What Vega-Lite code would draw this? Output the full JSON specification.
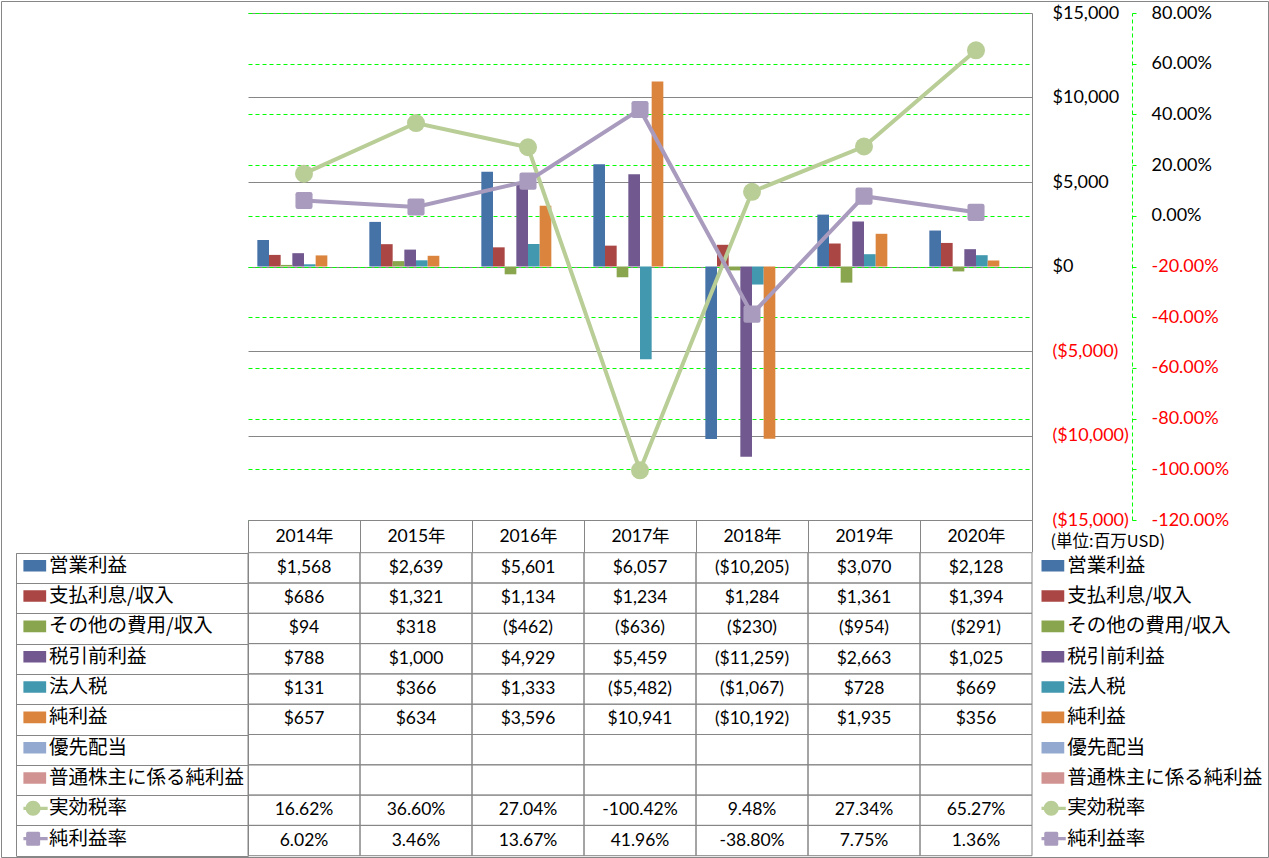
{
  "$schema": "https://vega.github.io/schema/vega-lite/v6.json",
  "width": 1267,
  "height": 856,
  "padding": 1,
  "autosize": {"type": "none"},
  "background": "#ffffff",
  "config": {
    "view": {"stroke": "#868686", "strokeWidth": 1},
    "locale": {"number": {"decimal": ".", "thousands": ",", "grouping": [3], "currency": ["$", ""], "minus": "-"}},
    "font": "Lato"
  },
  "data": {"values": [
    {"year": "2014年", "series": "営業利益", "value": 1568},
    {"year": "2015年", "series": "営業利益", "value": 2639},
    {"year": "2016年", "series": "営業利益", "value": 5601},
    {"year": "2017年", "series": "営業利益", "value": 6057},
    {"year": "2018年", "series": "営業利益", "value": -10205},
    {"year": "2019年", "series": "営業利益", "value": 3070},
    {"year": "2020年", "series": "営業利益", "value": 2128},
    {"year": "2014年", "series": "支払利息/収入", "value": 686},
    {"year": "2015年", "series": "支払利息/収入", "value": 1321},
    {"year": "2016年", "series": "支払利息/収入", "value": 1134},
    {"year": "2017年", "series": "支払利息/収入", "value": 1234},
    {"year": "2018年", "series": "支払利息/収入", "value": 1284},
    {"year": "2019年", "series": "支払利息/収入", "value": 1361},
    {"year": "2020年", "series": "支払利息/収入", "value": 1394},
    {"year": "2014年", "series": "その他の費用/収入", "value": 94},
    {"year": "2015年", "series": "その他の費用/収入", "value": 318},
    {"year": "2016年", "series": "その他の費用/収入", "value": -462},
    {"year": "2017年", "series": "その他の費用/収入", "value": -636},
    {"year": "2018年", "series": "その他の費用/収入", "value": -230},
    {"year": "2019年", "series": "その他の費用/収入", "value": -954},
    {"year": "2020年", "series": "その他の費用/収入", "value": -291},
    {"year": "2014年", "series": "税引前利益", "value": 788},
    {"year": "2015年", "series": "税引前利益", "value": 1000},
    {"year": "2016年", "series": "税引前利益", "value": 4929},
    {"year": "2017年", "series": "税引前利益", "value": 5459},
    {"year": "2018年", "series": "税引前利益", "value": -11259},
    {"year": "2019年", "series": "税引前利益", "value": 2663},
    {"year": "2020年", "series": "税引前利益", "value": 1025},
    {"year": "2014年", "series": "法人税", "value": 131},
    {"year": "2015年", "series": "法人税", "value": 366},
    {"year": "2016年", "series": "法人税", "value": 1333},
    {"year": "2017年", "series": "法人税", "value": -5482},
    {"year": "2018年", "series": "法人税", "value": -1067},
    {"year": "2019年", "series": "法人税", "value": 728},
    {"year": "2020年", "series": "法人税", "value": 669},
    {"year": "2014年", "series": "純利益", "value": 657},
    {"year": "2015年", "series": "純利益", "value": 634},
    {"year": "2016年", "series": "純利益", "value": 3596},
    {"year": "2017年", "series": "純利益", "value": 10941},
    {"year": "2018年", "series": "純利益", "value": -10192},
    {"year": "2019年", "series": "純利益", "value": 1935},
    {"year": "2020年", "series": "純利益", "value": 356},
    {"year": "2014年", "series": "優先配当", "value": null},
    {"year": "2015年", "series": "優先配当", "value": null},
    {"year": "2016年", "series": "優先配当", "value": null},
    {"year": "2017年", "series": "優先配当", "value": null},
    {"year": "2018年", "series": "優先配当", "value": null},
    {"year": "2019年", "series": "優先配当", "value": null},
    {"year": "2020年", "series": "優先配当", "value": null},
    {"year": "2014年", "series": "普通株主に係る純利益", "value": null},
    {"year": "2015年", "series": "普通株主に係る純利益", "value": null},
    {"year": "2016年", "series": "普通株主に係る純利益", "value": null},
    {"year": "2017年", "series": "普通株主に係る純利益", "value": null},
    {"year": "2018年", "series": "普通株主に係る純利益", "value": null},
    {"year": "2019年", "series": "普通株主に係る純利益", "value": null},
    {"year": "2020年", "series": "普通株主に係る純利益", "value": null},
    {"year": "2014年", "series": "実効税率", "value": 0.1662},
    {"year": "2015年", "series": "実効税率", "value": 0.3660},
    {"year": "2016年", "series": "実効税率", "value": 0.2704},
    {"year": "2017年", "series": "実効税率", "value": -1.0042},
    {"year": "2018年", "series": "実効税率", "value": 0.0948},
    {"year": "2019年", "series": "実効税率", "value": 0.2734},
    {"year": "2020年", "series": "実効税率", "value": 0.6527},
    {"year": "2014年", "series": "純利益率", "value": 0.0602},
    {"year": "2015年", "series": "純利益率", "value": 0.0346},
    {"year": "2016年", "series": "純利益率", "value": 0.1367},
    {"year": "2017年", "series": "純利益率", "value": 0.4196},
    {"year": "2018年", "series": "純利益率", "value": -0.3880},
    {"year": "2019年", "series": "純利益率", "value": 0.0775},
    {"year": "2020年", "series": "純利益率", "value": 0.0136}
  ]},
  "resolve": {"scale": {"y": "independent"}},
  "layer": [
    {
      "transform": [{"filter": {"field": "series", "oneOf": ["営業利益", "支払利息/収入", "その他の費用/収入", "税引前利益", "法人税", "純利益", "優先配当", "普通株主に係る純利益"]}}],
      "mark": {"type": "bar"},
      "encoding": {
        "x": {
          "field": "year", "type": "nominal", "sort": null,
          "scale": {"range": [247, 1031], "paddingInner": 0, "paddingOuter": 0},
          "axis": {
            "orient": "bottom", "offset": -337, "title": null, "grid": false,
            "domain": true, "domainColor": "#868686", "domainWidth": 1,
            "ticks": true, "tickBand": "extent", "tickSize": 32, "tickColor": "#868686", "tickWidth": 1,
            "labelAngle": 0, "labelPadding": -16, "labelBaseline": "middle",
            "labelFont": "Lato, Noto Sans CJK JP", "labelFontSize": 17.5, "labelColor": "#000000"
          }
        },
        "xOffset": {
          "field": "series", "type": "nominal", "sort": null,
          "scale": {"domain": ["営業利益", "支払利息/収入", "その他の費用/収入", "税引前利益", "法人税", "純利益", "優先配当", "普通株主に係る純利益"], "paddingInner": 0, "paddingOuter": 0.8}
        },
        "y": {
          "field": "value", "type": "quantitative",
          "scale": {"domain": [-15000, 15000], "range": [519, 12], "nice": false},
          "axis": {
            "orient": "left", "offset": -1031,
            "values": [-15000, -10000, -5000, 0, 5000, 10000, 15000],
            "format": "($,.0f",
            "labelColor": {"condition": {"test": "datum.value < 0", "value": "#ff0000"}, "value": "#000000"},
            "labelAlign": "left", "labelPadding": -20, "labelFont": "Lato", "labelFontSize": 18,
            "ticks": false,
            "domain": true, "domainColor": "#868686", "domainWidth": 1,
            "grid": true, "gridColor": "#868686", "gridWidth": 1,
            "title": "(単位:百万USD)", "titleAngle": 0, "titleX": 18, "titleY": 540.7,
            "titleAlign": "left", "titleBaseline": "middle",
            "titleFont": "Noto Sans CJK JP", "titleFontSize": 16.5, "titleFontWeight": "normal", "titleColor": "#000000"
          }
        },
        "fill": {
          "field": "series", "type": "nominal",
          "scale": {
            "domain": ["営業利益", "支払利息/収入", "その他の費用/収入", "税引前利益", "法人税", "純利益", "優先配当", "普通株主に係る純利益", "実効税率", "純利益率"],
            "range": ["#4572A7", "#AA4643", "#89A54E", "#71588F", "#4198AF", "#DB843D", "#93A9CF", "#D19392", "#B9CD96", "#A99BBD"]
          },
          "legend": {
            "orient": "none", "legendX": 1040.5, "legendY": 549.7, "direction": "vertical", "title": null, "padding": 0,
            "symbolSize": 100, "symbolStrokeWidth": 0, "symbolOpacity": 1, "rowPadding": 0.33, "clipHeight": 30,
            "labelFont": "Noto Sans CJK JP", "labelFontSize": 19.5, "labelColor": "#000000", "labelOffset": 6.2, "labelLimit": 400,
            "encode": {"symbols": {"update": {
              "shape": {"signal": "datum.value === '実効税率' ? 'M-2.9,-0.33H2.9V0.33H-2.9ZM1.5,0C1.5,0.828,0.828,1.5,0,1.5C-0.828,1.5,-1.5,0.828,-1.5,0C-1.5,-0.828,-0.828,-1.5,0,-1.5C0.828,-1.5,1.5,-0.828,1.5,0Z' : (datum.value === '純利益率' ? 'M-2.9,-0.33H2.9V0.33H-2.9ZM-1.1,-1.4H1.1Q1.4,-1.4,1.4,-1.1V1.1Q1.4,1.4,1.1,1.4H-1.1Q-1.4,1.4,-1.4,1.1V-1.1Q-1.4,-1.4,-1.1,-1.4Z' : 'M-2.6,-1.16H2.6V1.16H-2.6Z')"},
              "fill": {"signal": "['#4572A7', '#AA4643', '#89A54E', '#71588F', '#4198AF', '#DB843D', '#93A9CF', '#D19392', '#B9CD96', '#A99BBD'][indexof(['営業利益', '支払利息/収入', 'その他の費用/収入', '税引前利益', '法人税', '純利益', '優先配当', '普通株主に係る純利益', '実効税率', '純利益率'], datum.value)]"},
              "stroke": {"value": "transparent"},
              "opacity": {"value": 1}
            }}}
          }
        }
      }
    },
    {
      "transform": [{"filter": {"field": "series", "oneOf": ["実効税率", "純利益率"]}}],
      "encoding": {
        "x": {"field": "year", "type": "nominal", "sort": null},
        "y": {
          "field": "value", "type": "quantitative",
          "scale": {"domain": [-1.2, 0.8], "range": [519, 12], "nice": false},
          "axis": {
            "orient": "left", "offset": -1131,
            "values": [-1.2, -1, -0.8, -0.6, -0.4, -0.2, 0, 0.2, 0.4, 0.6, 0.8],
            "format": ".2%",
            "labelColor": {"condition": {"test": "datum.value < 0", "value": "#ff0000"}, "value": "#000000"},
            "labelAlign": "left", "labelPadding": -15, "labelFont": "Lato", "labelFontSize": 18,
            "ticks": true, "tickSize": -4, "tickColor": "#00ff00", "tickWidth": 1,
            "domain": true, "domainColor": "#00ff00", "domainWidth": 1, "domainDash": [4, 3],
            "grid": true, "gridColor": "#00ff00", "gridWidth": 1, "gridDash": [4, 3],
            "title": null
          }
        }
      },
      "layer": [
        {
          "mark": {"type": "line", "strokeWidth": 4},
          "encoding": {
            "stroke": {
              "field": "series", "type": "nominal",
              "scale": {
                "domain": ["営業利益", "支払利息/収入", "その他の費用/収入", "税引前利益", "法人税", "純利益", "優先配当", "普通株主に係る純利益", "実効税率", "純利益率", "-"],
                "range": ["#4572A7", "#AA4643", "#89A54E", "#71588F", "#4198AF", "#DB843D", "#93A9CF", "#D19392", "#B9CD96", "#A99BBD", "#ffffff"]
              },
              "legend": {
                "values": ["営業利益", "支払利息/収入", "その他の費用/収入", "税引前利益", "法人税", "純利益", "優先配当", "普通株主に係る純利益", "実効税率", "純利益率"],
                "orient": "none", "legendX": 22.4, "legendY": 549.7, "direction": "vertical", "title": null, "padding": 0,
                "symbolSize": 100, "symbolStrokeWidth": 0, "symbolOpacity": 1, "rowPadding": 0.33, "clipHeight": 30,
                "labelFont": "Noto Sans CJK JP", "labelFontSize": 19.5, "labelColor": "#000000", "labelOffset": 6.2, "labelLimit": 400,
                "encode": {"symbols": {"update": {
                  "shape": {"signal": "datum.value === '実効税率' ? 'M-2.9,-0.33H2.9V0.33H-2.9ZM1.5,0C1.5,0.828,0.828,1.5,0,1.5C-0.828,1.5,-1.5,0.828,-1.5,0C-1.5,-0.828,-0.828,-1.5,0,-1.5C0.828,-1.5,1.5,-0.828,1.5,0Z' : (datum.value === '純利益率' ? 'M-2.9,-0.33H2.9V0.33H-2.9ZM-1.1,-1.4H1.1Q1.4,-1.4,1.4,-1.1V1.1Q1.4,1.4,1.1,1.4H-1.1Q-1.4,1.4,-1.4,1.1V-1.1Q-1.4,-1.4,-1.1,-1.4Z' : 'M-2.6,-1.16H2.6V1.16H-2.6Z')"},
                  "fill": {"signal": "['#4572A7', '#AA4643', '#89A54E', '#71588F', '#4198AF', '#DB843D', '#93A9CF', '#D19392', '#B9CD96', '#A99BBD'][indexof(['営業利益', '支払利息/収入', 'その他の費用/収入', '税引前利益', '法人税', '純利益', '優先配当', '普通株主に係る純利益', '実効税率', '純利益率'], datum.value)]"},
                  "strokeWidth": {"value": 0},
                  "opacity": {"value": 1}
                }}}
              }
            }
          }
        },
        {
          "mark": {"type": "point", "filled": true, "size": 324, "opacity": 1, "strokeWidth": 0},
          "encoding": {
            "fill": {"field": "series", "type": "nominal"},
            "shape": {
              "field": "series", "type": "nominal",
              "scale": {"domain": ["実効税率", "純利益率"], "range": ["circle", "M-0.7,-0.95H0.7Q0.95,-0.95,0.95,-0.7V0.7Q0.95,0.95,0.7,0.95H-0.7Q-0.95,0.95,-0.95,0.7V-0.7Q-0.95,-0.95,-0.7,-0.95Z"]},
              "legend": null
            }
          }
        }
      ]
    },
    {
      "mark": {"type": "rect", "fill": "transparent", "stroke": "#868686", "strokeWidth": 1},
      "encoding": {
        "x": {"field": "year", "type": "nominal", "sort": null},
        "y": {
          "field": "series", "type": "nominal", "sort": null,
          "scale": {"domain": ["営業利益", "支払利息/収入", "その他の費用/収入", "税引前利益", "法人税", "純利益", "優先配当", "普通株主に係る純利益", "実効税率", "純利益率"], "range": [551.7, 854.7], "paddingInner": 0, "paddingOuter": 0},
          "axis": {
            "orient": "left", "offset": -247, "title": null, "grid": false, "labels": false,
            "ticks": true, "tickBand": "extent", "tickSize": 232, "tickColor": "#868686", "tickWidth": 1,
            "domain": true, "domainColor": "#868686", "domainWidth": 1
          }
        }
      }
    },
    {
      "transform": [{"filter": {"field": "series", "oneOf": ["営業利益", "支払利息/収入", "その他の費用/収入", "税引前利益", "法人税", "純利益"]}}],
      "mark": {"type": "text", "font": "Lato", "fontSize": 17.5, "color": "#000000", "baseline": "middle", "align": "center"},
      "encoding": {
        "x": {"field": "year", "type": "nominal", "sort": null},
        "y": {
          "field": "series", "type": "nominal", "sort": null,
          "scale": {"domain": ["営業利益", "支払利息/収入", "その他の費用/収入", "税引前利益", "法人税", "純利益", "優先配当", "普通株主に係る純利益", "実効税率", "純利益率"], "range": [551.7, 854.7], "paddingInner": 0, "paddingOuter": 0},
          "axis": {
            "orient": "left", "offset": -15, "title": null, "grid": false, "labels": false, "ticks": false,
            "domain": true, "domainColor": "#868686", "domainWidth": 1
          }
        },
        "text": {"field": "value", "type": "quantitative", "format": "($,.0f"}
      }
    },
    {
      "transform": [{"filter": {"field": "series", "oneOf": ["実効税率", "純利益率"]}}],
      "mark": {"type": "text", "font": "Lato", "fontSize": 17.5, "color": "#000000", "baseline": "middle", "align": "center"},
      "encoding": {
        "x": {"field": "year", "type": "nominal", "sort": null},
        "y": {
          "field": "series", "type": "nominal", "sort": null,
          "scale": {"domain": ["営業利益", "支払利息/収入", "その他の費用/収入", "税引前利益", "法人税", "純利益", "優先配当", "普通株主に係る純利益", "実効税率", "純利益率"], "range": [551.7, 854.7], "paddingInner": 0, "paddingOuter": 0},
          "axis": null
        },
        "text": {"field": "value", "type": "quantitative", "format": ".2%"}
      }
    }
  ]
}
